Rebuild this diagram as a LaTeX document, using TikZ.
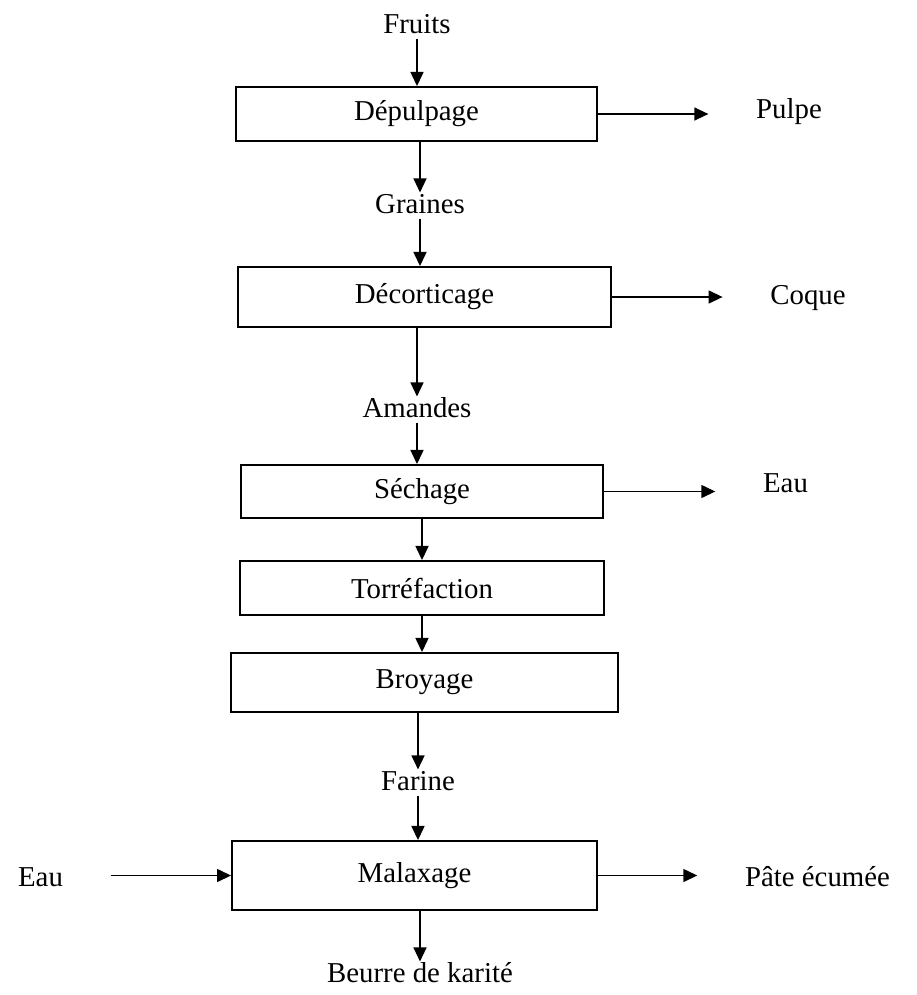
\documentclass[tikz,border=0pt]{standalone}
\usepackage{fontspec}
\setmainfont{Liberation Serif}
\usetikzlibrary{arrows.meta}

\begin{document}
\begin{tikzpicture}[x=0.02cm, y=-0.02cm,
  font=\fontsize{16.4}{20}\selectfont,
  box/.style={rectangle, draw, line width=1.1pt, inner sep=0pt},
  txt/.style={inner sep=0pt, anchor=base, text height=1.15em, text depth=0.3em},
  sidelbl/.style={inner xsep=27pt, inner ysep=0pt, anchor=base},
  flow/.style={-{Triangle[length=8pt, width=7.4pt]}, line width=0.85pt}]
\useasboundingbox (0,0) rectangle (917,995);

% main line
\node[txt] (F)  at (417,33)  {Fruits};
\node[box, minimum width=7.22cm, minimum height=1.08cm] (D1) at (416.5,114) {Dépulpage};
\node[txt] (G)  at (420,213) {Graines};
\node[box, minimum width=7.46cm, minimum height=1.2cm]  (D2) at (424.5,297) {Décorticage};
\node[txt] (A)  at (417,417) {Amandes};
\node[box, minimum width=7.24cm, minimum height=1.06cm] (S)  at (422,491.5) {Séchage};
\node[box, minimum width=7.28cm, minimum height=1.08cm] (T)  at (422,588)   {Torréfaction};
\node[box, minimum width=7.74cm, minimum height=1.18cm] (B)  at (424.5,682.5) {Broyage};
\node[txt] (Fa) at (418,790) {Farine};
\node[box, minimum width=7.3cm, minimum height=1.38cm]  (M)  at (414.5,875.5) {Malaxage};
\node[txt] (K)  at (420,982) {Beurre de karité};

% side products
\node[sidelbl] (P)  at (789,118)   {Pulpe};
\node[sidelbl] (C)  at (808,304)   {Coque};
\node[sidelbl] (E1) at (785.5,492) {Eau};
\node[sidelbl] (Pe) at (817.5,886) {Pâte écumée};
\node[sidelbl] (E2) at (40.5,886)  {Eau};

\draw[flow] (F) -- (F |- D1.north);
\draw[flow] (D1.south -| G) -- (G);
\draw[flow] (G) -- (G |- D2.north);
\draw[flow] (D2.south -| A) -- (A);
\draw[flow] (A) -- (A |- S.north);
\draw[flow] (S.south) -- (S.south |- T.north);
\draw[flow] (T.south) -- (T.south |- B.north);
\draw[flow] (B.south -| Fa) -- (Fa);
\draw[flow] (Fa) -- (Fa |- M.north);
\draw[flow] (M.south -| K) -- (K);

\draw[flow] (D1.east) -- (D1.east -| P.west);
\draw[flow] (D2.east) -- (D2.east -| C.west);
\draw[flow] (S.east) -- (S.east -| E1.west);
\draw[flow] (M.east) -- (M.east -| Pe.west);
\draw[flow] (E2.east |- M.west) -- (M.west);
\end{tikzpicture}
\end{document}
